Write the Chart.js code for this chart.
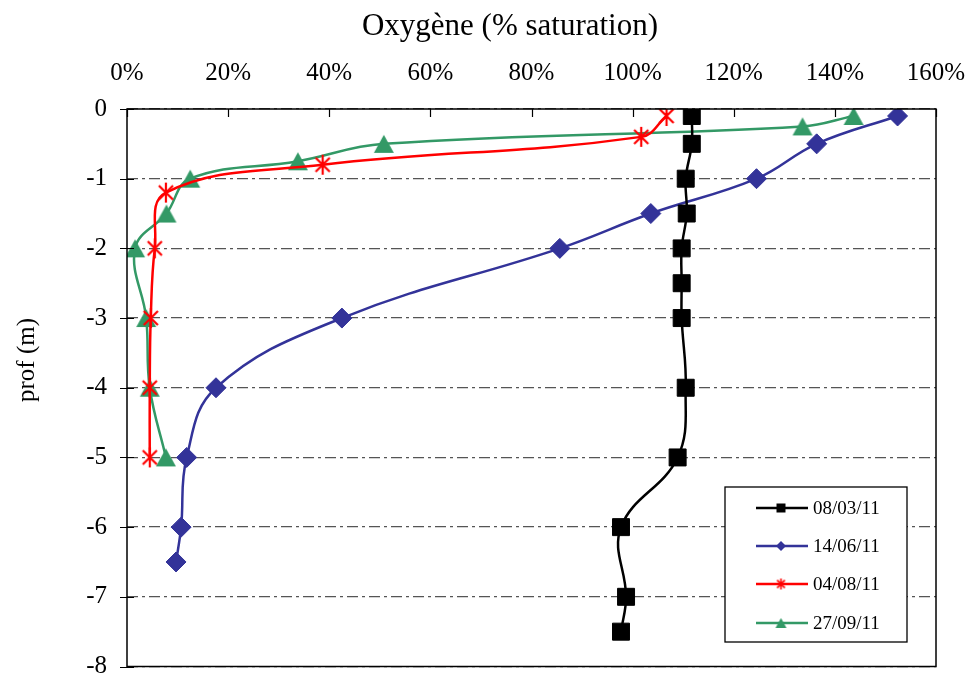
<!DOCTYPE html>
<html>
<head>
<meta charset="utf-8">
<script src="https://cdn.jsdelivr.net/npm/chart.js"></script>
<style>
  body { margin: 0; background: #fff; }
  #wrap { width: 970px; height: 680px; }
</style>
</head>
<body>
<div id="wrap"><canvas id="myChart" width="970" height="680"></canvas></div>
<script>
// Data (oxygen % saturation vs depth in m)

const seriesLabels = ['08/03/11', '14/06/11', '04/08/11', '27/09/11'];

const depthMar = [-0.1, -0.5, -1, -1.5, -2, -2.5, -3, -4, -5, -6, -7, -7.5];
const oxyMar = [111.7, 111.7, 110.5, 110.7, 109.7, 109.7, 109.7, 110.5, 108.9, 97.7, 98.7, 97.7];

const depthJun = [-0.1, -0.5, -1, -1.5, -2, -3, -4, -5, -6, -6.5];
const oxyJun = [152.4, 136.4, 124.5, 103.6, 85.6, 42.5, 17.6, 11.8, 10.7, 9.7];

const depthAug = [-0.1, -0.4, -0.8, -1.2, -2, -3, -4, -5];
const oxyAug = [106.7, 101.7, 38.7, 7.7, 5.5, 4.7, 4.5, 4.5];

const depthSep = [-0.1, -0.25, -0.5, -0.75, -1, -1.5, -2, -3, -4, -5];
const oxySep = [143.7, 133.6, 50.8, 33.8, 12.5, 7.8, 1.6, 3.8, 4.5, 7.7];

const xTicks = [0, 20, 40, 60, 80, 100, 120, 140, 160];
const yTicks = [0, -1, -2, -3, -4, -5, -6, -7, -8];

function pairs(xs, ys) {
  return xs.map((x, i) => ({ x: x, y: ys[i] }));
}

// Asterisk marker (vertical bar + X), like the spreadsheet one
function makeAsterisk(size, color, lw) {
  const c = document.createElement('canvas');
  c.width = size;
  c.height = size;
  const g = c.getContext('2d');
  const m = size / 2;
  const r = size / 2 - 1;
  const d = r * Math.SQRT1_2;
  g.strokeStyle = color;
  g.lineWidth = lw;
  g.beginPath();
  g.moveTo(m, m - r); g.lineTo(m, m + r);
  g.moveTo(m - d, m - d); g.lineTo(m + d, m + d);
  g.moveTo(m - d, m + d); g.lineTo(m + d, m - d);
  g.stroke();
  return c;
}

// Triangle centred on its box (chart.js one sits too high)
function makeTriangle(w, h, color) {
  const c = document.createElement('canvas');
  c.width = w + 2;
  c.height = h + 2;
  const g = c.getContext('2d');
  g.fillStyle = color;
  g.beginPath();
  g.moveTo(1 + w / 2, 1);
  g.lineTo(1 + w, 1 + h);
  g.lineTo(1, 1 + h);
  g.closePath();
  g.fill();
  return c;
}

const starBig = makeAsterisk(22, '#FF0000', 2.2);
const starSmall = makeAsterisk(13, '#FF0000', 1.6);
const triBig = makeTriangle(20, 18, '#339966');
const triSmall = makeTriangle(11, 10, '#339966');

const AREA = { left: 127, top: 109, right: 936, bottom: 669 };
const SERIF = '"Liberation Serif", "Times New Roman", serif';

// Frame, inner ticks, titles, legend
const decorations = {
  id: 'decorations',
  afterDatasetsDraw(chart) {
    const ctx = chart.ctx;
    const a = chart.chartArea;
    const xs = chart.scales.x;
    const ys = chart.scales.y;
    ctx.save();

    ctx.strokeStyle = '#000';
    ctx.lineWidth = 1.5;
    ctx.strokeRect(a.left, a.top, a.right - a.left, a.bottom - a.top);

    ctx.beginPath();
    xTicks.forEach(v => {
      const px = Math.round(xs.getPixelForValue(v)) + 0.5;
      ctx.moveTo(px, a.top);
      ctx.lineTo(px, a.top + 8);
    });
    yTicks.forEach(v => {
      const py = Math.round(ys.getPixelForValue(v)) + 0.5;
      ctx.moveTo(a.left - 7, py);
      ctx.lineTo(a.left + 7, py);
    });
    ctx.lineWidth = 1.2;
    ctx.stroke();

    ctx.fillStyle = '#000';
    ctx.font = '31px ' + SERIF;
    ctx.textAlign = 'center';
    ctx.textBaseline = 'alphabetic';
    ctx.fillText('Oxygène (% saturation)', 510, 35);

    ctx.save();
    ctx.translate(27, 360);
    ctx.rotate(-Math.PI / 2);
    ctx.font = '25px ' + SERIF;
    ctx.textBaseline = 'middle';
    ctx.fillText('prof (m)', 0, 0);
    ctx.restore();

    // legend
    const box = { x: 725, y: 487, w: 182, h: 155 };
    ctx.fillStyle = '#fff';
    ctx.fillRect(box.x, box.y, box.w, box.h);
    ctx.strokeStyle = '#000';
    ctx.lineWidth = 1.3;
    ctx.strokeRect(box.x, box.y, box.w, box.h);

    const rows = [508, 546, 584, 623];
    chart.data.datasets.forEach((ds, i) => {
      const y = rows[i];
      ctx.strokeStyle = ds.borderColor;
      ctx.lineWidth = 2.5;
      ctx.beginPath();
      ctx.moveTo(756, y);
      ctx.lineTo(808, y);
      ctx.stroke();
      drawMarker(ctx, ds.legendMarker, 781, y, ds.pointBackgroundColor);
      ctx.fillStyle = '#000';
      ctx.font = '19px ' + SERIF;
      ctx.textAlign = 'left';
      ctx.textBaseline = 'middle';
      ctx.fillText(ds.label, 813, y + 1);
    });

    ctx.restore();
  }
};

function drawMarker(ctx, kind, x, y, color) {
  ctx.fillStyle = color;
  ctx.beginPath();
  if (kind === 'square') {
    ctx.rect(x - 4.5, y - 4.5, 9, 9);
  } else if (kind === 'diamond') {
    ctx.moveTo(x, y - 5); ctx.lineTo(x + 5, y); ctx.lineTo(x, y + 5); ctx.lineTo(x - 5, y);
    ctx.closePath();
  } else if (kind === 'triangle') {
    ctx.drawImage(triSmall, x - triSmall.width / 2, y - triSmall.height / 2);
    return;
  } else if (kind === 'star') {
    ctx.drawImage(starSmall, x - starSmall.width / 2, y - starSmall.height / 2);
    return;
  }
  ctx.fill();
}

const ctx = document.getElementById('myChart').getContext('2d');

const myChart = new Chart(ctx, {
  type: 'scatter',
  data: {
    datasets: [
      {
        label: seriesLabels[0],
        data: pairs(oxyMar, depthMar),
        showLine: true,
        tension: 0.4,
        borderColor: '#000000',
        borderWidth: 2.5,
        pointStyle: 'rect',
        pointRadius: 12,
        pointBackgroundColor: '#000000',
        pointBorderColor: '#000000',
        pointBorderWidth: 1,
        legendMarker: 'square'
      },
      {
        label: seriesLabels[1],
        data: pairs(oxyJun, depthJun),
        showLine: true,
        tension: 0.4,
        borderColor: '#333399',
        borderWidth: 2.5,
        pointStyle: 'rectRot',
        pointRadius: 10,
        pointBackgroundColor: '#333399',
        pointBorderColor: '#333399',
        pointBorderWidth: 1,
        legendMarker: 'diamond'
      },
      {
        label: seriesLabels[2],
        data: pairs(oxyAug, depthAug),
        showLine: true,
        tension: 0.4,
        borderColor: '#FF0000',
        borderWidth: 2.5,
        pointStyle: starBig,
        pointRadius: 11,
        pointBackgroundColor: '#FF0000',
        pointBorderColor: '#FF0000',
        legendMarker: 'star'
      },
      {
        label: seriesLabels[3],
        data: pairs(oxySep, depthSep),
        showLine: true,
        tension: 0.4,
        borderColor: '#339966',
        borderWidth: 2.5,
        pointStyle: triBig,
        pointRadius: 11,
        pointBackgroundColor: '#339966',
        pointBorderColor: '#339966',
        legendMarker: 'triangle'
      }
    ]
  },
  options: {
    responsive: false,
    animation: false,
    layout: {
      padding: { left: 0, top: 0, right: 970 - AREA.right, bottom: 680 - AREA.bottom }
    },
    plugins: {
      legend: { display: false },
      tooltip: { enabled: false }
    },
    scales: {
      x: {
        type: 'linear',
        position: 'top',
        min: 0,
        max: 160,
        afterBuildTicks: (scale) => { scale.ticks = xTicks.map(v => ({ value: v })); },
        ticks: {
          color: '#000',
          padding: 13,
          maxRotation: 0,
          font: { family: SERIF, size: 25 },
          callback: (v) => v + '%'
        },
        grid: { display: false },
        border: { display: false },
        afterFit: (scale) => {
          scale.height = AREA.top;
          scale.paddingLeft = 0;
          scale.paddingRight = 0;
        }
      },
      y: {
        type: 'linear',
        min: -8,
        max: 0,
        afterBuildTicks: (scale) => { scale.ticks = yTicks.map(v => ({ value: v })); },
        ticks: {
          color: '#000',
          padding: 20,
          font: { family: SERIF, size: 25 }
        },
        grid: {
          color: '#555555',
          lineWidth: 1.3,
          drawTicks: false
        },
        border: { display: false, dash: [11, 4, 3, 4] },
        afterFit: (scale) => {
          scale.width = AREA.left;
          scale.paddingTop = 0;
          scale.paddingBottom = 0;
        }
      }
    }
  },
  plugins: [decorations]
});
</script>
</body>
</html>
